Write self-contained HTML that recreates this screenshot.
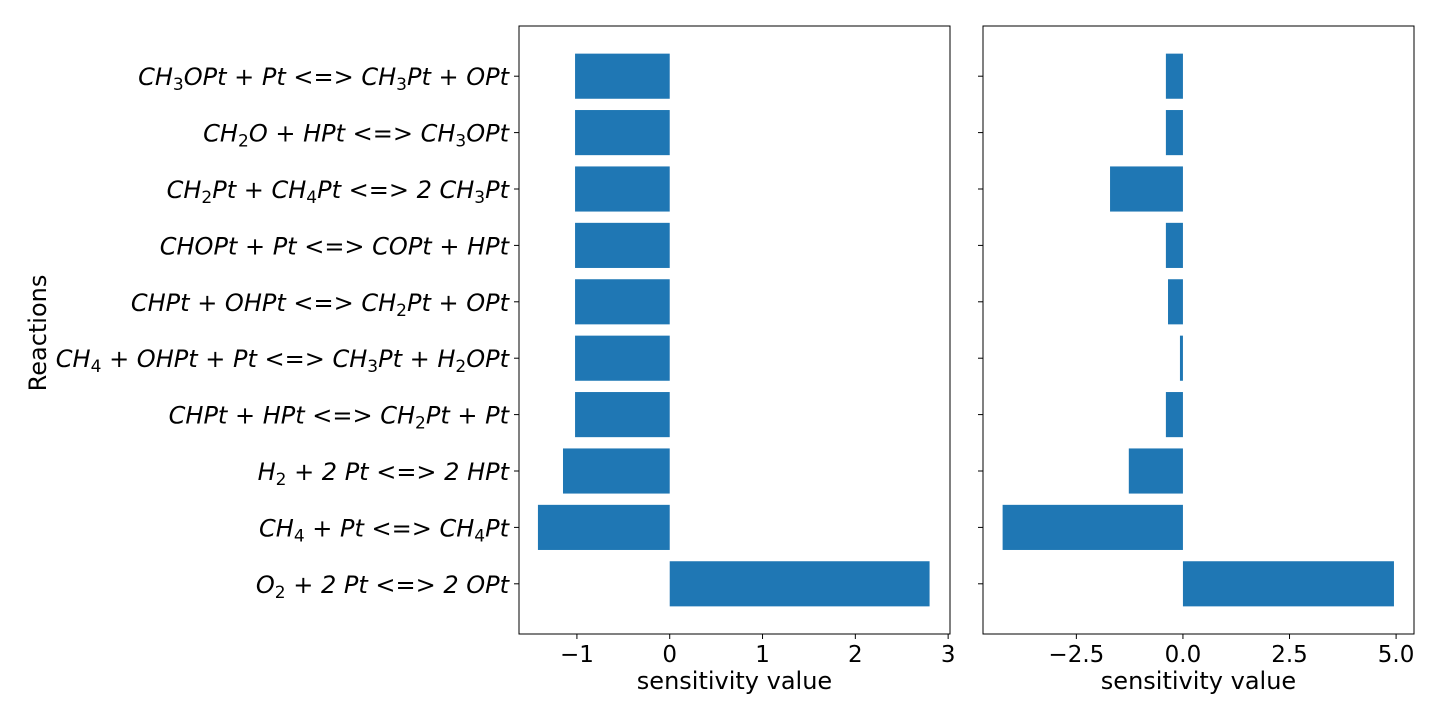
<!DOCTYPE html>
<html><head><meta charset="utf-8"><style>
body{margin:0;background:#fff;}
svg text{font-family:"DejaVu Sans","Liberation Sans",sans-serif;fill:#000;}
</style></head><body>
<svg id="chart" width="1440" height="720" xmlns="http://www.w3.org/2000/svg"></svg>
<script>
const reactions=[
 ["O","2"," + 2 Pt <=> 2 OPt"],
 ["CH","4"," + Pt <=> CH","4","Pt"],
 ["H","2"," + 2 Pt <=> 2 HPt"],
 ["CHPt + HPt <=> CH","2","Pt + Pt"],
 ["CH","4"," + OHPt + Pt <=> CH","3","Pt + H","2","OPt"],
 ["CHPt + OHPt <=> CH","2","Pt + OPt"],
 ["CHOPt + Pt <=> COPt + HPt"],
 ["CH","2","Pt + CH","4","Pt <=> 2 CH","3","Pt"],
 ["CH","2","O + HPt <=> CH","3","OPt"],
 ["CH","3","OPt + Pt <=> CH","3","Pt + OPt"]
];
const leftValues=[2.80,-1.42,-1.15,-1.02,-1.02,-1.02,-1.02,-1.02,-1.02,-1.02];
const rightValues=[4.95,-4.23,-1.27,-0.40,-0.07,-0.35,-0.40,-1.71,-0.40,-0.40];
const leftTicks=[-1,0,1,2,3];
const leftTickLabels=["−1","0","1","2","3"];
const rightTicks=[-2.5,0,2.5,5.0];
const rightTickLabels=["−2.5","0.0","2.5","5.0"];

const svg=document.getElementById('chart');
const NS='http://www.w3.org/2000/svg';
function mk(tag,attrs,parent){const e=document.createElementNS(NS,tag);for(const k in attrs)e.setAttribute(k,attrs[k]);(parent||svg).appendChild(e);return e;}
const plotTop=26,plotBot=634;
const yMin=-0.89,yMax=9.89;
function yS(i){return plotBot-(i-yMin)/(yMax-yMin)*(plotBot-plotTop);}
const bandH=(plotBot-plotTop)/(yMax-yMin)*0.8;

function panel(name,x0,x1,xmin,xmax,vals,ticks,tickLabels,showLabels){
 const g=mk('g',{});
 
 
 const xS=v=>x0+(v-xmin)/(xmax-xmin)*(x1-x0);
 vals.forEach((v,i)=>{
  const r=mk('rect',{x:Math.min(xS(0),xS(v)),y:yS(i)-bandH/2,width:Math.abs(xS(v)-xS(0)),height:bandH,fill:'#1f77b4'},g);
  
  
  const t=mk('line',{x1:x0,x2:x0-5,y1:yS(i),y2:yS(i),stroke:'#000','stroke-width':1},g);
  
  
  if(showLabels){
   const tx=mk('text',{x:x0-10,y:yS(i)+9,'text-anchor':'end','font-size':24,'font-style':'italic'},g);
   
   
   reactions[i].forEach((s,j)=>{
    const ts=mk('tspan',{},tx);
    if(j%2==1){ts.setAttribute('font-size','17');ts.setAttribute('dy','5');ts.setAttribute('font-style','normal');}
    else if(j>0){ts.setAttribute('dy','-5');}
    ts.textContent=s;
   });
  }
 });
 const fr=mk('rect',{x:x0,y:plotTop,width:x1-x0,height:plotBot-plotTop,fill:'none',stroke:'#000','stroke-width':1},g);
 
 
 ticks.forEach((v,i)=>{
  const l=mk('line',{x1:xS(v),x2:xS(v),y1:plotBot,y2:plotBot+5,stroke:'#000'},g);
  
  
  const t=mk('text',{x:xS(v),y:plotBot+28,'text-anchor':'middle','font-size':23},g);
  
  
  t.textContent=tickLabels[i];
 });
 const xt=mk('text',{x:(x0+x1)/2,y:689,'text-anchor':'middle','font-size':24},g);
 
 
 xt.textContent='sensitivity value';
}
panel('left-panel',519,950,-1.624,3.02,leftValues,leftTicks,leftTickLabels,true);
panel('right-panel',983,1414,-4.69,5.42,rightValues,rightTicks,rightTickLabels,false);
const yt=mk('text',{x:46,y:333,'text-anchor':'middle','font-size':24,transform:'rotate(-90 46 333)'});


yt.textContent='Reactions';
</script>
</body></html>
